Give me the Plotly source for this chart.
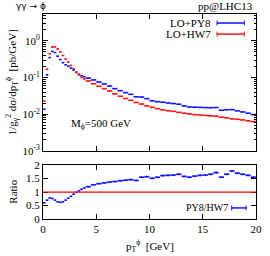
import plotly.graph_objects as go

# ---- data ----
pt_edges = [0.0, 0.25, 0.5, 0.75, 1.0, 1.25, 1.5, 1.75, 2.0, 2.25, 2.5, 2.75, 3.0, 3.25, 3.5, 3.75, 4.0,
            4.5, 5.0, 5.5, 6.0, 6.5, 7.0, 7.5, 8.0, 8.5, 9.0, 9.5, 10.0, 10.5, 11.0, 11.5, 12.0,
            12.5, 13.0, 13.5, 14.0, 14.5, 15.0, 15.5, 16.0, 16.5, 17.0, 17.5, 18.0, 18.5, 19.0, 19.5, 20.0]

hw7 = [0.023, 0.17, 0.45, 0.68, 0.69, 0.60, 0.50, 0.40, 0.32, 0.265, 0.215, 0.175, 0.140, 0.118, 0.102, 0.092,
       0.081, 0.068, 0.058, 0.050, 0.043, 0.036, 0.031, 0.027, 0.024, 0.021, 0.019, 0.017, 0.0155, 0.0142,
       0.0132, 0.0125, 0.0120, 0.0113, 0.0107, 0.0102, 0.0098, 0.0095, 0.0093, 0.0091, 0.0089, 0.0083,
       0.0080, 0.0075, 0.0073, 0.0070, 0.0066, 0.0063]

py8 = [0.0138, 0.119, 0.351, 0.517, 0.483, 0.384, 0.310, 0.256, 0.224, 0.204, 0.181, 0.161, 0.139, 0.124,
       0.112, 0.106, 0.097, 0.0864, 0.0760, 0.0670, 0.0589, 0.0500, 0.0440, 0.0389, 0.0350, 0.0300,
       0.0295, 0.0267, 0.0234, 0.0220, 0.0213, 0.0203, 0.0196, 0.0188, 0.0169, 0.0158, 0.0156, 0.0154,
       0.0152, 0.0151, 0.0153, 0.0129, 0.0133, 0.0134, 0.0124, 0.0116, 0.0107, 0.0098]

ratio = [0.60, 0.70, 0.78, 0.76, 0.70, 0.64, 0.62, 0.64, 0.70, 0.77, 0.84, 0.92, 0.99, 1.05, 1.10, 1.15,
         1.20, 1.27, 1.31, 1.34, 1.37, 1.39, 1.42, 1.44, 1.46, 1.43, 1.55, 1.57, 1.51, 1.55, 1.61, 1.62,
         1.63, 1.66, 1.58, 1.55, 1.59, 1.62, 1.63, 1.66, 1.72, 1.55, 1.66, 1.78, 1.70, 1.66, 1.62, 1.55]

y_ticks = [1, 0.1, 0.01, 0.001]
y_ticktext = ["10<sup>0</sup>", "10<sup>-1</sup>", "10<sup>-2</sup>", "10<sup>-3</sup>"]
ratio_ticks = [0, 0.5, 1, 1.5, 2]
ratio_ticktext = ["0", "0.5", "1", "1.5", "2"]
x_ticks = [0, 5, 10, 15, 20]

centers = [(a + b) / 2 for a, b in zip(pt_edges[:-1], pt_edges[1:])]
halfw = [(b - a) / 2 for a, b in zip(pt_edges[:-1], pt_edges[1:])]

BLUE = "rgb(20,20,255)"
RED = "rgb(255,20,20)"
SERIF = "Liberation Serif"

fig = go.Figure()


def hist_trace(y, color, xa, ya, yerr_pct):
    return go.Scatter(
        x=centers, y=y, mode="markers", xaxis=xa, yaxis=ya,
        marker=dict(size=1, color=color),
        error_x=dict(type="data", array=halfw, symmetric=True, color=color, thickness=1.6, width=0),
        error_y=dict(type="percent", value=yerr_pct, color=color, thickness=1, width=0),
        hoverinfo="skip", showlegend=False,
    )


fig.add_trace(hist_trace(py8, BLUE, "x", "y", 2))
fig.add_trace(hist_trace(hw7, RED, "x", "y", 2))
fig.add_trace(hist_trace(ratio, BLUE, "x2", "y2", 2.5))

# ratio = 1 reference line
fig.add_shape(type="line", xref="x2", yref="y2", x0=0, x1=20, y0=1, y1=1,
              line=dict(color="red", width=1.2))

minor_logs = [m * 10 ** k for k in range(-3, 1) for m in range(2, 10)]

axis_common = dict(showline=True, linecolor="black", linewidth=1, mirror="allticks",
                   ticks="inside", ticklen=5, tickcolor="black", showgrid=False, zeroline=False,
                   tickfont=dict(family=SERIF, size=11, color="black"))

fig.update_layout(
    width=270, height=256,
    margin=dict(l=43, r=8, t=14, b=37),
    paper_bgcolor="white", plot_bgcolor="white",
    showlegend=False,
    xaxis=dict(domain=[0, 1], anchor="y", range=[0, 20], tickvals=x_ticks, showticklabels=False,
               **axis_common),
    yaxis=dict(domain=[0.332, 1], anchor="x", type="log", range=[-3, 0.735],
               tickvals=y_ticks, ticktext=y_ticktext,
               minor=dict(tickvals=minor_logs, ticks="inside", ticklen=2.5, tickcolor="black",
                          showgrid=False),
               **axis_common),
    xaxis2=dict(domain=[0, 1], anchor="y2", range=[0, 20], tickvals=x_ticks,
                ticktext=[str(v) for v in x_ticks], **axis_common),
    yaxis2=dict(domain=[0, 0.263], anchor="x2", range=[0, 2], tickvals=ratio_ticks,
                ticktext=ratio_ticktext, **axis_common),
)

ann_font = dict(family=SERIF, size=11, color="black")
annotations = [
    dict(text="γγ → ϕ", x=-0.137, y=1.039, xanchor="left", yanchor="middle",
         font=dict(family="DejaVu Sans", size=9, color="black")),
    dict(text="pp@LHC13", x=0.997, y=1.039, xanchor="right", yanchor="middle", font=ann_font),
    dict(text="LO+PY8", x=0.80, y=0.956, xanchor="right", yanchor="middle", font=ann_font),
    dict(text="LO+HW7", x=0.80, y=0.902, xanchor="right", yanchor="middle", font=ann_font),
    dict(text="M<sub>ϕ</sub>=500 GeV", x=0.123, y=0.462, xanchor="left", yanchor="middle", font=ann_font),
    dict(text="PY8/HW7", x=0.877, y=0.054, xanchor="right", yanchor="middle",
         font=dict(family=SERIF, size=10, color="black")),
    dict(text="1/g<sub>γ</sub><sup>2</sup> dσ/dp<sub>T</sub><sup>ϕ</sup>  [pb/GeV]", x=-0.142, y=0.666,
         textangle=-90, xanchor="center", yanchor="middle", font=ann_font),
    dict(text="Ratio", x=-0.142, y=0.132, textangle=-90, xanchor="center", yanchor="middle",
         font=ann_font),
    dict(text="p<sub>T</sub><sup>ϕ</sup>  [GeV]", x=0.5, y=-0.132, xanchor="center", yanchor="middle",
         font=ann_font),
]
for a in annotations:
    fig.add_annotation(xref="paper", yref="paper", showarrow=False, **a)

# legend samples (line with end caps)
def legend_sample(x0, x1, y, color):
    fig.add_shape(type="line", xref="paper", yref="paper", x0=x0, x1=x1, y0=y, y1=y,
                  line=dict(color=color, width=1.5))
    for xx in (x0, x1):
        fig.add_shape(type="line", xref="paper", yref="paper", x0=xx, x1=xx, y0=y - 0.012, y1=y + 0.012,
                      line=dict(color=color, width=1))

legend_sample(0.817, 0.945, 0.956, BLUE)
legend_sample(0.817, 0.945, 0.902, RED)
legend_sample(0.886, 0.954, 0.054, BLUE)

fig.write_html("out.html", config={"displayModeBar": False},
               post_script="document.body.style.margin='0';document.body.style.overflow='hidden';")
